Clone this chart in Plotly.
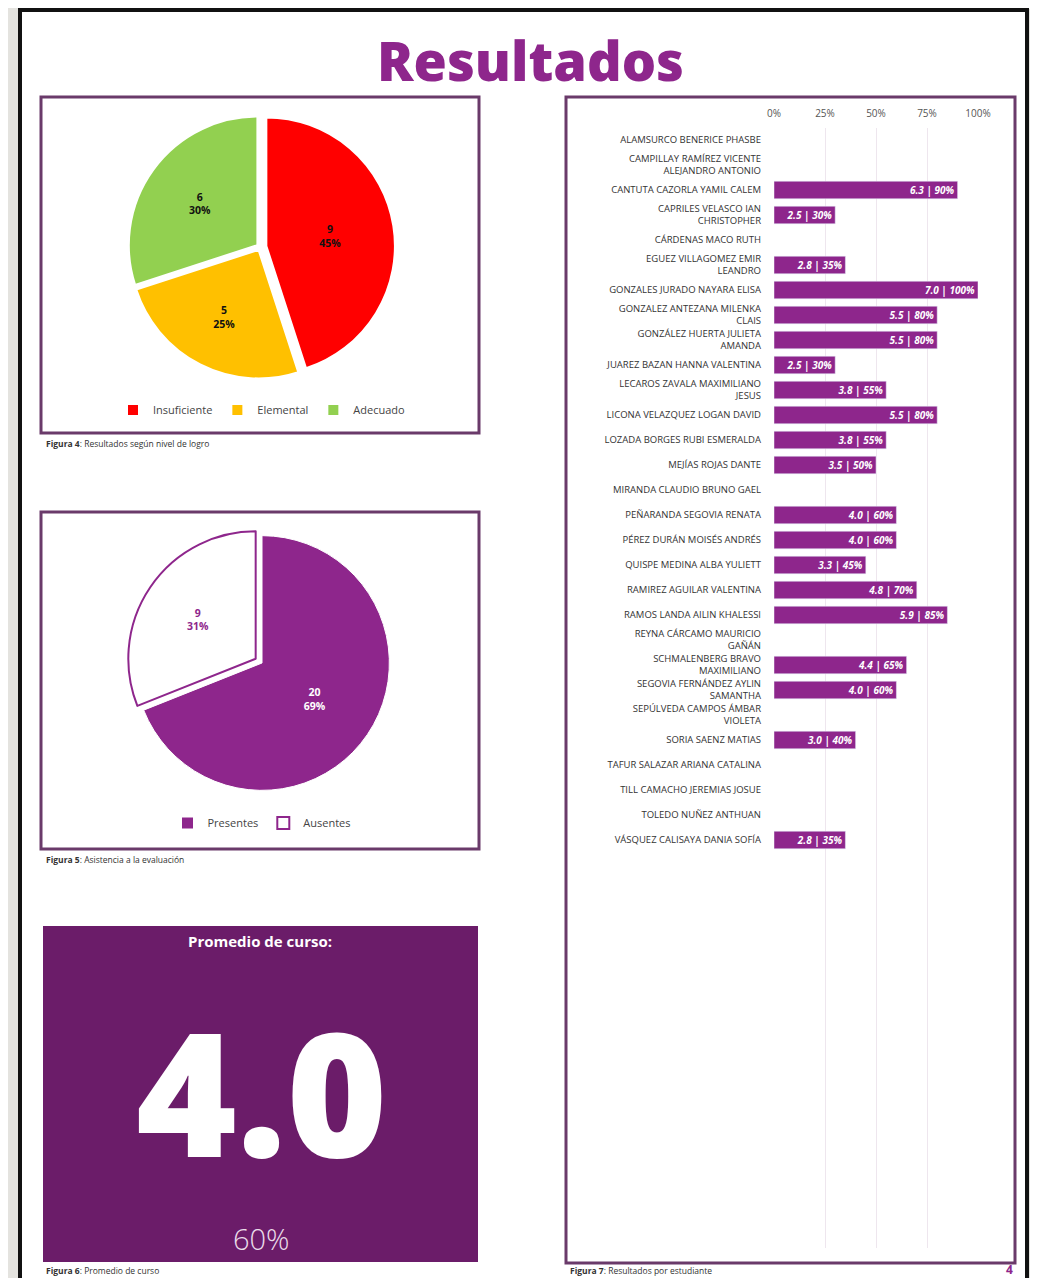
import plotly.graph_objects as go

# figure is placed by the page at (8, 8); keep it inside the 1038x1286 window
OX, OY = 8, 8
W, H = 1038 - 2 * OX, 1286 - 2 * OY

def px(x):
    return (x - OX) / W

def py(y):
    return 1 - (y - OY) / H

# ---------------- data ----------------
niveles = ["Insuficiente", "Elemental", "Adecuado"]
niveles_cant = [9, 5, 6]
niveles_colores = ["#ff0000", "#ffc000", "#92d050"]

asistencia = ["Presentes", "Ausentes"]
asistencia_cant = [20, 9]

promedio_nota = "4.0"
promedio_pct = "60%"

estudiantes = [
    "ALAMSURCO BENERICE PHASBE",
    "CAMPILLAY RAMÍREZ VICENTE<br>ALEJANDRO ANTONIO",
    "CANTUTA CAZORLA YAMIL CALEM",
    "CAPRILES VELASCO IAN<br>CHRISTOPHER",
    "CÁRDENAS MACO RUTH",
    "EGUEZ VILLAGOMEZ EMIR<br>LEANDRO",
    "GONZALES JURADO NAYARA ELISA",
    "GONZALEZ ANTEZANA MILENKA<br>CLAIS",
    "GONZÁLEZ HUERTA JULIETA<br>AMANDA",
    "JUAREZ BAZAN HANNA VALENTINA",
    "LECAROS ZAVALA MAXIMILIANO<br>JESUS",
    "LICONA VELAZQUEZ LOGAN DAVID",
    "LOZADA BORGES RUBI ESMERALDA",
    "MEJÍAS ROJAS DANTE",
    "MIRANDA CLAUDIO BRUNO GAEL",
    "PEÑARANDA SEGOVIA RENATA",
    "PÉREZ DURÁN MOISÉS ANDRÉS",
    "QUISPE MEDINA ALBA YULIETT",
    "RAMIREZ AGUILAR VALENTINA",
    "RAMOS LANDA AILIN KHALESSI",
    "REYNA CÁRCAMO MAURICIO<br>GAÑÁN",
    "SCHMALENBERG BRAVO<br>MAXIMILIANO",
    "SEGOVIA FERNÁNDEZ AYLIN<br>SAMANTHA",
    "SEPÚLVEDA CAMPOS ÁMBAR<br>VIOLETA",
    "SORIA SAENZ MATIAS",
    "TAFUR SALAZAR ARIANA CATALINA",
    "TILL CAMACHO JEREMIAS JOSUE",
    "TOLEDO NUÑEZ ANTHUAN",
    "VÁSQUEZ CALISAYA DANIA SOFÍA",
]
notas = [None, None, 6.3, 2.5, None, 2.8, 7.0, 5.5, 5.5, 2.5, 3.8, 5.5, 3.8, 3.5,
         None, 4.0, 4.0, 3.3, 4.8, 5.9, None, 4.4, 4.0, None, 3.0, None, None, None, 2.8]
porcentajes = [None, None, 90, 30, None, 35, 100, 80, 80, 30, 55, 80, 55, 50,
               None, 60, 60, 45, 70, 85, None, 65, 60, None, 40, None, None, None, 35]

x_ticks = [0, 0.25, 0.5, 0.75, 1.0]

# ---------------- colours ----------------
PURPLE = "#8e268c"
DARK_PURPLE = "#6b1c69"
BORDER = "#6a3a6a"

fig = go.Figure()

# Pie 1: nivel de logro
fig.add_trace(go.Pie(
    labels=niveles, values=niveles_cant,
    marker=dict(colors=niveles_colores, line=dict(color="white", width=2)),
    sort=False, direction="clockwise", rotation=0,
    pull=[0.05, 0.025, 0.025],
    texttemplate="%{value}<br>%{percent:.0%}",
    textposition="inside",
    insidetextorientation="horizontal",
    textfont=dict(family="Open Sans", size=10.5, color="#111", weight="bold"),
    domain=dict(x=[px(125), px(395)], y=[py(382), py(112)]),
    legend="legend",
    hoverinfo="label+value+percent",
))

# Pie 2: asistencia
fig.add_trace(go.Pie(
    labels=asistencia, values=asistencia_cant,
    marker=dict(colors=[PURPLE, "white"],
                line=dict(color=["white", PURPLE], width=[1, 2])),
    sort=False, direction="clockwise", rotation=0,
    pull=[0.0, 0.06],
    texttemplate="%{value}<br>%{percent:.0%}",
    textposition="inside",
    insidetextorientation="horizontal",
    textfont=dict(family="Open Sans", size=10.5, color=["white", PURPLE], weight="bold"),
    domain=dict(x=[px(127), px(397)], y=[py(798), py(528)]),
    legend="legend2",
    hoverinfo="label+value+percent",
))

# Bar chart: resultados por estudiante
bar_x = [p / 100 if p is not None else None for p in porcentajes]
bar_text = [f"{n:.1f} | {p}%" if n is not None else "" for n, p in zip(notas, porcentajes)]
fig.add_trace(go.Bar(
    y=estudiantes, x=bar_x, orientation="h",
    marker=dict(color=PURPLE),
    width=0.7,
    text=bar_text,
    textposition="inside",
    insidetextanchor="end",
    constraintext="none",
    textfont=dict(family="Open Sans", size=10, color="white", style="italic", weight="bold"),
    showlegend=False,
    hovertemplate="%{y}: %{text}<extra></extra>",
))

row_px = 25.0
top_px, bot_px, first_px = 128, 1248, 140
r_top = -(first_px - top_px) / row_px
r_bot = (bot_px - first_px) / row_px

fig.update_layout(
    width=W, height=H, autosize=False,
    margin=dict(l=0, r=0, t=0, b=0, autoexpand=False),
    paper_bgcolor="#e4e3df",
    plot_bgcolor="rgba(0,0,0,0)",
    font=dict(family="Open Sans", color="#333"),
    bargap=0.3,
    xaxis=dict(
        domain=[px(774), px(978)], range=[0, 1], side="top",
        tickvals=x_ticks, tickformat=".0%",
        showgrid=True, gridcolor="#eee6ee", gridwidth=1,
        zeroline=False, showline=False, ticks="",
        tickfont=dict(family="Open Sans", size=10, color="#555"),
        ticklabelstandoff=8, fixedrange=True, automargin=False,
    ),
    yaxis=dict(
        domain=[py(bot_px), py(top_px)], type="category",
        categoryorder="array", categoryarray=estudiantes,
        range=[r_bot, r_top],
        showgrid=False, zeroline=False, showline=False, ticks="",
        tickfont=dict(family="Open Sans", size=9.5, color="#333"),
        ticklabelstandoff=12, fixedrange=True, automargin=False,
    ),
    legend=dict(
        orientation="h", x=px(262), xanchor="center", y=py(410), yanchor="middle",
        font=dict(family="Open Sans", size=11, color="#444"),
        bgcolor="rgba(0,0,0,0)", itemwidth=30, tracegroupgap=0,
    ),
    legend2=dict(
        orientation="h", x=px(262), xanchor="center", y=py(823), yanchor="middle",
        font=dict(family="Open Sans", size=11, color="#444"),
        bgcolor="rgba(0,0,0,0)", itemwidth=30,
    ),
)

shapes = []
# page
shapes.append(dict(type="rect", xref="paper", yref="paper", x0=px(770), x1=px(1040), y0=py(9), y1=py(0),
                   fillcolor="white", line=dict(width=0), layer="below"))
shapes.append(dict(type="line", xref="paper", yref="paper", x0=px(768), x1=px(768), y0=py(10), y1=py(0),
                   line=dict(color="#111", width=2), layer="below"))
shapes.append(dict(type="rect", xref="paper", yref="paper", x0=px(20), x1=px(1027), y0=py(1300), y1=py(10),
                   fillcolor="white", line=dict(color="#111", width=4), layer="below"))
# panels
for (x0, y0, x1, y1) in [(41, 97, 479, 433), (41, 512, 479, 849), (566, 97, 1015, 1263)]:
    shapes.append(dict(type="rect", xref="paper", yref="paper", x0=px(x0), x1=px(x1), y0=py(y1), y1=py(y0),
                       fillcolor="white", line=dict(color=BORDER, width=3), layer="below"))
# promedio box
shapes.append(dict(type="rect", xref="paper", yref="paper", x0=px(43), x1=px(478), y0=py(1262), y1=py(926),
                   fillcolor=DARK_PURPLE, line=dict(width=0), layer="below"))
fig.update_layout(shapes=shapes)

ann = []
ann.append(dict(text="Resultados", x=px(530), y=py(60), xref="paper", yref="paper",
                showarrow=False, xanchor="center", yanchor="middle",
                font=dict(family="Open Sans", size=54, color=PURPLE, weight=800)))
captions = [
    ("Figura 4", ": Resultados según nivel de logro", 44, 444),
    ("Figura 5", ": Asistencia a la evaluación", 44, 859),
    ("Figura 6", ": Promedio de curso", 44, 1270),
    ("Figura 7", ": Resultados por estudiante", 568, 1270),
]
for b, t, x, y in captions:
    ann.append(dict(text=f"<b>{b}</b>{t}", x=px(x), y=py(y), xref="paper", yref="paper",
                    showarrow=False, xanchor="left", yanchor="middle",
                    font=dict(family="Open Sans", size=8.5, color="#333")))
ann.append(dict(text="Promedio de curso:", x=px(260), y=py(941), xref="paper", yref="paper",
                showarrow=False, xanchor="center", yanchor="middle",
                font=dict(family="Open Sans", size=15, color="white", weight="bold")))
ann.append(dict(text=promedio_nota, x=px(261), y=py(1090), xref="paper", yref="paper",
                showarrow=False, xanchor="center", yanchor="middle",
                font=dict(family="Open Sans", size=172, color="white", weight=800)))
ann.append(dict(text=promedio_pct, x=px(261), y=py(1238), xref="paper", yref="paper",
                showarrow=False, xanchor="center", yanchor="middle",
                font=dict(family="Open Sans", size=29, color="#eadcea", weight=300)))
ann.append(dict(text="4", x=px(1009), y=py(1269), xref="paper", yref="paper",
                showarrow=False, xanchor="center", yanchor="middle",
                font=dict(family="Open Sans", size=12, color=PURPLE, weight="bold")))
fig.update_layout(annotations=ann)

fig.write_html("out.html")
